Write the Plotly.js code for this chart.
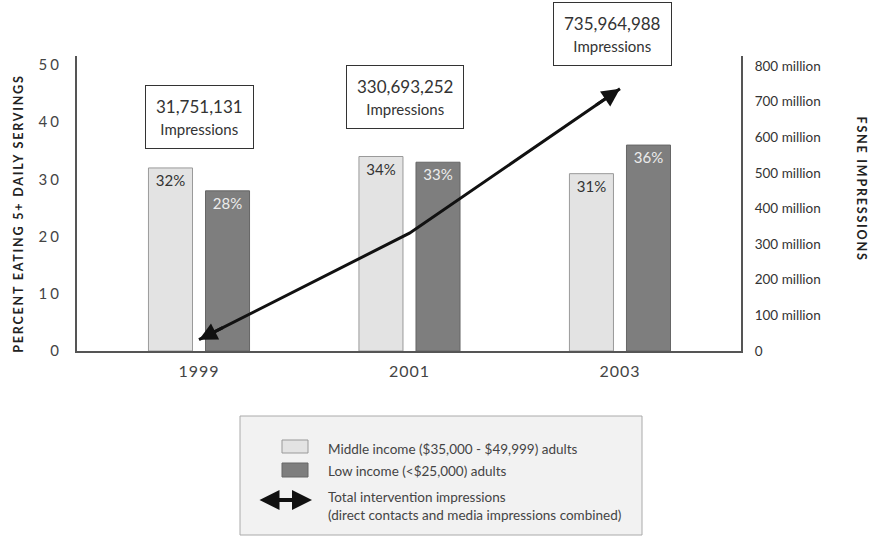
<!DOCTYPE html>
<html><head><meta charset="utf-8">
<script src="https://cdn.plot.ly/plotly-3.0.1.min.js"></script>
<style>html,body{margin:0;padding:0;background:#fff;}#chart{width:872px;height:537px;}</style>
</head><body><div id="chart"></div>
<script>
// ---- data ----
const years = ['1999', '2001', '2003'];
const middleIncome = [32, 34, 31];
const lowIncome = [28, 33, 36];
const impressions = [31751131, 330693252, 735964988];
const impressionLabels = ['31,751,131', '330,693,252', '735,964,988'];
const impressionWord = 'Impressions';
const middleName = 'Middle income ($35,000 - $49,999) adults';
const lowName = 'Low income (<$25,000) adults';
const lineNameLines = ['Total intervention impressions', '(direct contacts and media impressions combined)'];
const leftTickVals = [0, 10, 20, 30, 40, 50];
const rightTickVals = [0, 100e6, 200e6, 300e6, 400e6, 500e6, 600e6, 700e6, 800e6];
const rightTickText = ['0', '100 million', '200 million', '300 million', '400 million', '500 million', '600 million', '700 million', '800 million'];
const leftTitle = 'PERCENT EATING 5+ DAILY SERVINGS';
const rightTitle = 'FSNE IMPRESSIONS';

// ---- layout helpers (pixel -> paper) ----
const L = 77, T = 56, W = 664, H = 295;
const px = x => (x - L) / W;
const py = y => (T + H - y) / H;
const FONT = 'Lato, "DejaVu Sans", sans-serif';
const lightFill = '#e3e3e3', darkFill = '#7e7e7e';

const traces = [
  {
    type: 'bar', x: years, y: middleIncome, name: middleName,
    marker: {color: lightFill, line: {color: '#9a9a9a', width: 1}},
    text: middleIncome.map(v => v + '%'), textposition: 'inside', insidetextanchor: 'end',
    textfont: {family: FONT, size: 15, color: '#333'}, textangle: 0,
    hoverinfo: 'skip', showlegend: false
  },
  {
    type: 'bar', x: years, y: lowIncome, name: lowName,
    marker: {color: darkFill, line: {color: '#666', width: 1}},
    text: lowIncome.map(v => v + '%'), textposition: 'inside', insidetextanchor: 'end',
    textfont: {family: FONT, size: 15, color: '#ececec'}, textangle: 0,
    hoverinfo: 'skip', showlegend: false
  },
  {
    type: 'scatter', mode: 'lines', x: years, y: impressions, yaxis: 'y2',
    name: lineNameLines.join(' '),
    line: {color: '#111', width: 3}, hoverinfo: 'skip', showlegend: false
  }
];

const annotations = [];
// impression boxes
const boxY = [py(117), py(97), py(34)];
const boxShift = [0, -4, -7];
impressionLabels.forEach((lab, i) => {
  annotations.push({
    xref: 'x', yref: 'paper', x: i, y: boxY[i], xshift: boxShift[i], xanchor: 'center', yanchor: 'middle',
    text: lab + '<br><span style="font-size:15px">' + impressionWord + '</span>',
    showarrow: false, font: {family: FONT, size: 17, color: '#333'},
    bgcolor: '#fff', bordercolor: '#333', borderwidth: 1, borderpad: 10
  });
});
// arrow heads at both ends of the impressions line
const n = impressions.length;
const ends = [[0, 1], [n - 1, n - 2]];
ends.forEach(([a, b]) => {
  const f = 0.12;
  annotations.push({
    xref: 'x', yref: 'y2', axref: 'x', ayref: 'y2',
    x: a, y: impressions[a],
    ax: a + f * (b - a), ay: impressions[a] + f * (impressions[b] - impressions[a]),
    text: '', showarrow: true, arrowhead: 2, arrowsize: 1.2, arrowwidth: 3, arrowcolor: '#111'
  });
});
// axis titles
annotations.push({
  xref: 'paper', yref: 'paper', x: px(18), y: py(214), xanchor: 'center', yanchor: 'middle',
  text: '<b>' + leftTitle + '</b>',
  textangle: -90, showarrow: false, font: {family: FONT, size: 12.5, color: '#222'}
});
annotations.push({
  xref: 'paper', yref: 'paper', x: px(862), y: py(189), xanchor: 'center', yanchor: 'middle',
  text: '<b>' + rightTitle + '</b>',
  textangle: 90, showarrow: false, font: {family: FONT, size: 12.5, color: '#222'}
});
// legend texts
const legFont = {family: FONT, size: 13.5, color: '#444'};
const legText = (y, txt) => ({xref: 'paper', yref: 'paper', x: px(326), y: py(y), xanchor: 'left', yanchor: 'middle',
  align: 'left', text: txt, showarrow: false, font: legFont});
annotations.push(legText(449, middleName.replace(/\$/g, '&#36;')));
annotations.push(legText(471, lowName.replace('<', '&lt;').replace(/\$/g, '&#36;')));
annotations.push(legText(506, lineNameLines.join('<br>')));
annotations.push({
  xref: 'paper', yref: 'paper', axref: 'paper', ayref: 'paper',
  x: px(312), y: py(500), ax: px(258), ay: py(500), text: '',
  showarrow: true, arrowside: 'end+start', arrowhead: 2, arrowsize: 1, arrowwidth: 4, arrowcolor: '#111'
});

const shapes = [
  {type: 'rect', xref: 'paper', yref: 'paper', x0: px(240), x1: px(642), y0: py(535), y1: py(416),
   fillcolor: '#f2f2f2', line: {color: '#aaa', width: 1}, layer: 'below'},
  {type: 'rect', xref: 'paper', yref: 'paper', x0: px(282), x1: px(308), y0: py(453), y1: py(440),
   fillcolor: lightFill, line: {color: '#999', width: 1}},
  {type: 'rect', xref: 'paper', yref: 'paper', x0: px(282), x1: px(308), y0: py(477), y1: py(463),
   fillcolor: darkFill, line: {color: '#666', width: 1}}
];

const layout = {
  width: 872, height: 537,
  margin: {l: L, r: 872 - L - W, t: T, b: 537 - T - H, pad: 0},
  paper_bgcolor: '#fff', plot_bgcolor: '#fff',
  font: {family: FONT, color: '#333'},
  barmode: 'group', bargap: 0.458, bargroupgap: 0.228,
  showlegend: false,
  xaxis: {
    type: 'category', range: [-0.5796, 2.575], showgrid: false, zeroline: false,
    showline: true, linecolor: '#555', linewidth: 2, ticks: '', ticklabelstandoff: 5,
    tickfont: {family: FONT, size: 16, color: '#444'}, fixedrange: true
  },
  yaxis: {
    range: [0, 51.57], tickvals: leftTickVals, showgrid: false, zeroline: false,
    showline: true, linecolor: '#555', linewidth: 2, ticks: '', ticklabelstandoff: 10,
    tickfont: {family: FONT, size: 15, color: '#444'}, fixedrange: true
  },
  yaxis2: {
    overlaying: 'y', side: 'right', range: [0, 828e6], tickvals: rightTickVals, ticktext: rightTickText,
    showgrid: false, zeroline: false, showline: true, linecolor: '#555', linewidth: 2, ticks: '',
    ticklabelstandoff: 9, tickfont: {family: FONT, size: 13.5, color: '#333'}, fixedrange: true
  },
  annotations: annotations,
  shapes: shapes
};

Plotly.newPlot('chart', traces, layout, {staticPlot: true, displayModeBar: false}).then(gd => {
  gd.querySelectorAll('.ytick text').forEach(t => t.setAttribute('letter-spacing', '3'));
  gd.querySelectorAll('.xtick text').forEach(t => t.setAttribute('letter-spacing', '1'));
  gd.querySelectorAll('.annotation-text').forEach(t => {
    if (/PERCENT|FSNE/.test(t.textContent)) t.setAttribute('letter-spacing', '1.8');
  });
});
</script>
</body></html>
